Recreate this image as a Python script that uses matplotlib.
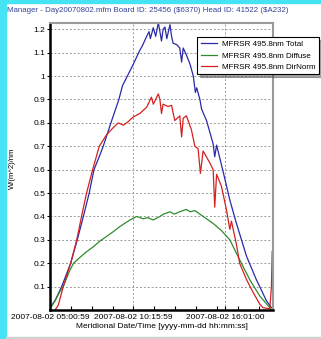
import matplotlib
matplotlib.use("Agg")
import matplotlib.pyplot as plt
from matplotlib.patches import Rectangle
from matplotlib.lines import Line2D

plt.rcParams['font.family'] = ['Liberation Sans', 'DejaVu Sans']

title = "Manager - Day20070802.mfm Board ID: 25456 (\\$6370) Head ID: 41522 (\\$A232)"
series_names = ["MFRSR 495.8nm Total", "MFRSR 495.8nm Diffuse", "MFRSR 495.8nm DirNorm"]
xtick_labels = ["2007-08-02 05:00:59", "2007-08-02 10:15:59", "2007-08-02 16:01:00"]
xtick_times = ["05:00:59", "10:15:59", "16:01:00"]
ytick_values = [0.1, 0.2, 0.3, 0.4, 0.5, 0.6, 0.7, 0.8, 0.9, 1.0, 1.1, 1.2]
ytick_labels = ["0.1", "0.2", "0.3", "0.4", "0.5", "0.6", "0.7", "0.8", "0.9", "1", "1.1", "1.2"]

total_times = ["05:01", "05:20", "05:45", "06:19", "06:44", "07:07", "07:29", "07:47", "08:05",
               "08:22", "08:51", "09:21", "09:35", "09:53", "10:15", "10:40", "10:50", "11:06",
               "11:15", "11:20", "11:31", "11:40", "11:50", "11:56", "12:02", "12:08",
               "12:15", "12:22", "12:34", "12:40", "12:46", "12:59", "13:11", "13:18", "13:24",
               "13:36", "13:50", "14:02", "14:10", "14:15", "14:27", "14:33", "14:52", "15:17",
               "15:23", "15:30", "15:55", "16:20", "16:45", "17:23", "18:00", "18:38", "18:57"]
total_vals = [0.01, 0.04, 0.10, 0.20, 0.30, 0.40, 0.50, 0.60, 0.65,
              0.70, 0.80, 0.90, 0.96, 1.00, 1.05, 1.11, 1.13, 1.17,
              1.19, 1.16, 1.207, 1.17, 1.228, 1.19, 1.15, 1.20,
              1.21, 1.16, 1.22, 1.17, 1.14, 1.135, 1.12, 1.06, 1.12,
              1.09, 1.05, 1.00, 0.93, 0.95, 0.90, 0.86, 0.81, 0.71,
              0.655, 0.705, 0.59, 0.47, 0.37, 0.23, 0.13, 0.04, 0.01]

diffuse_times = ["05:01", "05:20", "05:39", "05:51", "06:16", "06:30", "06:54", "07:20", "07:44",
                 "08:10", "08:35", "09:00", "09:25", "10:03", "10:28",
                 "10:53", "11:10", "11:31", "11:56", "12:10", "12:34", "12:50", "13:11", "13:36",
                 "13:50", "14:08", "14:27", "14:52", "15:17", "15:48", "16:20", "16:57", "17:35",
                 "18:13", "18:51", "18:57"]
diffuse_vals = [0.005, 0.04, 0.08, 0.10, 0.17, 0.20, 0.225, 0.25, 0.27,
                0.295, 0.315, 0.335, 0.357, 0.385, 0.40,
                0.39, 0.395, 0.385, 0.40, 0.41, 0.42, 0.41, 0.42, 0.43,
                0.42, 0.425, 0.41, 0.39, 0.37, 0.34, 0.30, 0.215, 0.13,
                0.06, 0.01, 0.0]

dirnorm_times = ["05:20", "05:32", "05:51", "06:19", "06:42", "07:00", "07:19", "07:42", "08:07",
                 "08:35", "09:00", "09:19", "09:38", "09:56",
                 "10:15", "10:40", "11:06", "11:24", "11:31", "11:40", "11:50", "11:56", "12:02",
                 "12:08", "12:27", "12:40", "12:52", "13:11", "13:18", "13:24", "13:36", "13:55",
                 "14:08", "14:20", "14:29", "14:39", "15:04", "15:17", "15:23", "15:30", "15:48",
                 "16:07", "16:20", "16:26", "16:45", "16:57", "17:23", "17:48", "18:13", "18:25",
                 "18:51", "18:57", "19:00"]
dirnorm_vals = [0.0, 0.02, 0.10, 0.20, 0.30, 0.40, 0.50, 0.60, 0.70,
                0.75, 0.78, 0.80, 0.79, 0.805,
                0.825, 0.84, 0.867, 0.91, 0.88, 0.90, 0.924, 0.90, 0.84,
                0.88, 0.87, 0.875, 0.81, 0.83, 0.74, 0.82, 0.83, 0.77,
                0.70, 0.69, 0.584, 0.68, 0.63, 0.60, 0.44, 0.58, 0.53,
                0.43, 0.345, 0.38, 0.28, 0.20, 0.13, 0.075, 0.025, 0.01,
                0.005, 0.10, 0.25]


def to_hours(t):
    parts = [float(p) for p in t.split(":")]
    while len(parts) < 3:
        parts.append(0.0)
    return parts[0] + parts[1] / 60 + parts[2] / 3600


W, H = 321, 339
fig = plt.figure(figsize=(W / 100, H / 100), dpi=100)
fig.patch.set_facecolor("white")

# window frame
fig.patches.append(Rectangle((0, 0), 6 / W, 1, transform=fig.transFigure, color="#44e4f4", zorder=0))
fig.patches.append(Rectangle((0, 1 - 3 / H), 1, 3 / H, transform=fig.transFigure, color="#44e4f4", zorder=0))
fig.patches.append(Rectangle((6 / W, 0), 1, 2 / H, transform=fig.transFigure, color="#d0d0d0", zorder=0))

fig.text(7 / W, 1 - 10 / H, title, fontsize=5.7, color="#34449a", ha="left", va="center")

ax = fig.add_axes([50 / W, 1 - 310 / H, 223 / W, 287 / H])

colors = ["#2a2aa8", "#2e8b2e", "#d42020"]
ax.plot([to_hours(t) for t in total_times], total_vals, color=colors[0], lw=0.9)
ax.plot([to_hours(t) for t in diffuse_times], diffuse_vals, color=colors[1], lw=0.9)
ax.plot([to_hours(t) for t in dirnorm_times], dirnorm_vals, color=colors[2], lw=0.9)

x0 = to_hours(xtick_times[0])
ax.set_xlim(x0, 19.05)
ax.set_ylim(0, 1.227)

major = [to_hours(t) for t in xtick_times]
ax.set_xticks(major)
ax.set_xticklabels(xtick_labels, fontsize=6)
step = (major[1] - major[0]) / 4
minor = [x0 + i * step for i in range(1, 12) if x0 + i * step < 19.05]
ax.set_xticks(minor, minor=True)
ax.set_yticks(ytick_values)
ax.set_yticklabels(ytick_labels, fontsize=6)

ax.tick_params(axis="x", direction="in", length=3, width=0.8, pad=3)
ax.tick_params(axis="x", which="minor", direction="in", length=3, width=0.8)
ax.tick_params(axis="y", direction="out", length=2, width=0.8, pad=1.5)

ax.grid(True, which="major", color="#999999", linestyle=(0, (2, 2)), linewidth=0.7)

for s in ["left", "bottom"]:
    ax.spines[s].set_linewidth(1.8)
    ax.spines[s].set_color("black")
for s in ["top", "right"]:
    ax.spines[s].set_linewidth(1.5)
    ax.spines[s].set_color("#9a9a9a")

ax.set_xlabel("Meridional Date/Time [yyyy-mm-dd hh:mm:ss]", fontsize=6, labelpad=1)
fig.text(12 / W, 1 - 168 / H, "W/(m^2)/nm", fontsize=5.5, rotation=90, ha="center", va="center")

handles = [Line2D([], [], color=c, lw=0.9) for c in colors]
leg = ax.legend(handles, series_names, loc="upper right", bbox_to_anchor=(319 / W, 1 - 37 / H),
                bbox_transform=fig.transFigure, fontsize=5.8, frameon=True, fancybox=False,
                borderaxespad=0, handlelength=2.0, handletextpad=0.6, labelspacing=0.45,
                borderpad=0.45, shadow=True)
leg.get_frame().set_edgecolor("black")
leg.get_frame().set_linewidth(0.8)

fig.savefig("out.png", dpi=100)
